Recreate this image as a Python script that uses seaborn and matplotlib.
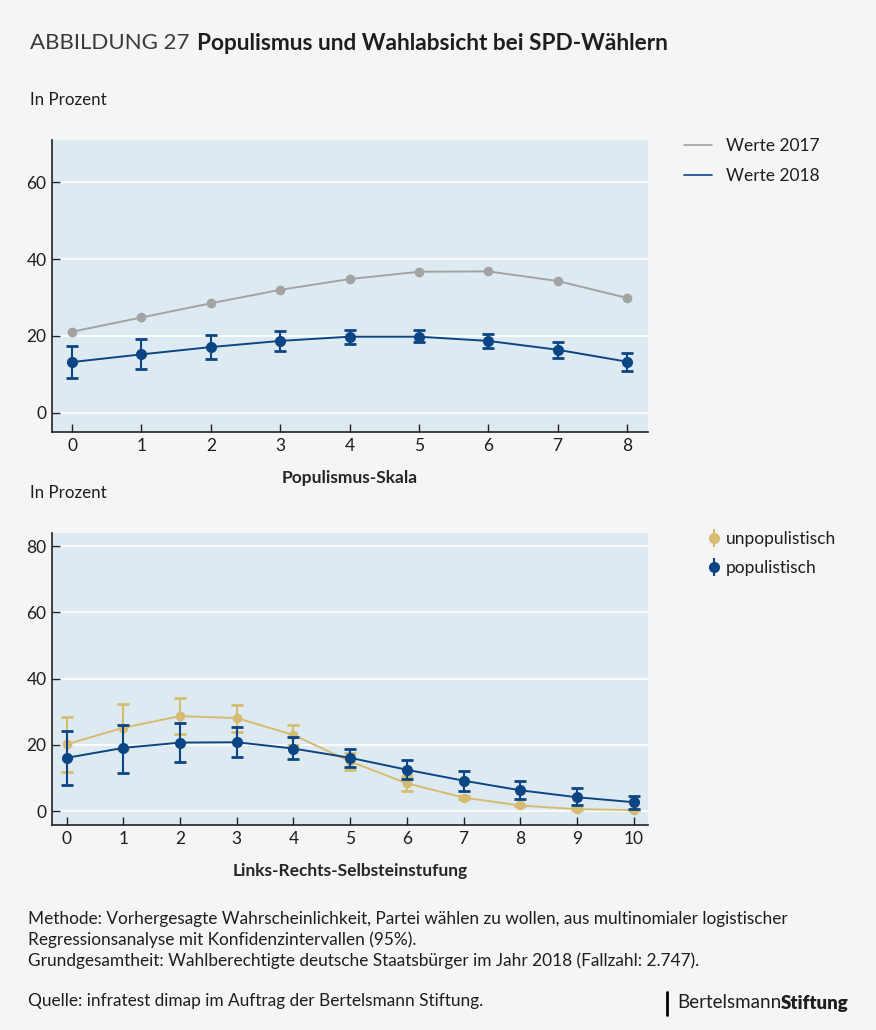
import numpy as np
import pandas as pd
import matplotlib.pyplot as plt
import seaborn as sns
from matplotlib.lines import Line2D

# --- data ---
pop_scale = [0, 1, 2, 3, 4, 5, 6, 7, 8]
werte_2017 = [21.1, 24.8, 28.5, 32.0, 34.8, 36.7, 36.8, 34.3, 29.9]
werte_2018 = [13.2, 15.2, 17.1, 18.7, 19.8, 19.8, 18.7, 16.4, 13.3]
werte_2018_lo = [9.0, 11.4, 14.0, 16.1, 17.9, 18.3, 16.8, 14.2, 10.9]
werte_2018_hi = [17.4, 19.1, 20.3, 21.2, 21.6, 21.6, 20.5, 18.4, 15.6]

lr_scale = [0, 1, 2, 3, 4, 5, 6, 7, 8, 9, 10]
unpop = [20.2, 25.2, 28.7, 28.1, 23.0, 15.0, 8.4, 4.1, 1.7, 0.6, 0.3]
unpop_lo = [11.8, 18.5, 23.3, 24.0, 20.0, 12.5, 6.0, 3.6, 1.4, 0.4, 0.2]
unpop_hi = [28.4, 32.4, 34.3, 32.1, 26.1, 17.7, 10.7, 4.6, 2.0, 0.8, 0.4]
popu = [16.1, 19.1, 20.7, 20.8, 18.9, 16.1, 12.5, 9.2, 6.3, 4.2, 2.7]
popu_lo = [7.9, 11.5, 14.8, 16.3, 15.7, 13.3, 9.7, 6.1, 3.7, 1.8, 0.7]
popu_hi = [24.3, 26.1, 26.7, 25.5, 22.5, 18.8, 15.5, 12.2, 9.2, 6.9, 4.6]

BG = '#f5f5f5'
PANEL = '#deeaf2'
BLUE = '#0b4584'
GREY = '#a3a3a3'
GOLD = '#d6bc72'
TXT = '#1e1e1e'

sns.set_theme(style='white')
plt.rcParams['font.family'] = ['Lato', 'DejaVu Sans']
plt.rcParams['text.color'] = TXT


def style_axes(ax, yticks):
    ax.set_facecolor(PANEL)
    sns.despine(ax=ax, top=True, right=True)
    for s in ['left', 'bottom']:
        ax.spines[s].set_color('#222222')
        ax.spines[s].set_linewidth(1.2)
    ax.set_yticks(yticks)
    ax.yaxis.grid(True, color='white', linewidth=1.2)
    ax.set_axisbelow(True)
    ax.tick_params(axis='both', which='both', direction='in', length=6,
                   width=1, color='#222222', labelsize=12.5, labelcolor=TXT,
                   bottom=True, left=True, pad=4)
    ax.set_ylabel('')


fig = plt.figure(figsize=(8.76, 10.3), dpi=100, facecolor=BG)

# --- top panel ---
ax1 = fig.add_axes([0.0594, 0.5806, 0.680, 0.2835])
df1 = pd.DataFrame({'x': pop_scale, 'y17': werte_2017, 'y18': werte_2018})
sns.lineplot(data=df1, x='x', y='y17', ax=ax1, color=GREY, marker='o',
             markersize=7, markeredgewidth=0, linewidth=1.4)
err18 = [np.subtract(werte_2018, werte_2018_lo), np.subtract(werte_2018_hi, werte_2018)]
ax1.errorbar(pop_scale, werte_2018, yerr=err18, fmt='none', ecolor=BLUE,
             elinewidth=1.5, capsize=4, capthick=2)
sns.lineplot(data=df1, x='x', y='y18', ax=ax1, color=BLUE, marker='o',
             markersize=8, markeredgewidth=0, linewidth=1.4)
ax1.set_xlim(-0.29, 8.3)
ax1.set_ylim(-5, 71)
ax1.set_xticks(pop_scale)
style_axes(ax1, [0, 20, 40, 60])
ax1.set_xlabel('Populismus-Skala', fontsize=12.5, fontweight='bold', labelpad=12)

leg1 = [Line2D([0], [0], color=GREY, lw=1.2), Line2D([0], [0], color=BLUE, lw=1.2)]
ax1.legend(leg1, ['Werte 2017', 'Werte 2018'], loc='upper left',
           bbox_to_anchor=(1.035, 1.06), frameon=False, fontsize=12.5,
           handlelength=1.6, handletextpad=0.8, labelspacing=0.8)

# --- bottom panel ---
ax2 = fig.add_axes([0.0594, 0.199, 0.680, 0.2835])
df2 = pd.DataFrame({'x': lr_scale, 'unpop': unpop, 'pop': popu})
ax2.errorbar(lr_scale, unpop,
             yerr=[np.subtract(unpop, unpop_lo), np.subtract(unpop_hi, unpop)],
             fmt='none', ecolor=GOLD, elinewidth=1.5, capsize=4, capthick=2)
sns.lineplot(data=df2, x='x', y='unpop', ax=ax2, color=GOLD, marker='o',
             markersize=7, markeredgewidth=0, linewidth=1.4)
ax2.errorbar(lr_scale, popu,
             yerr=[np.subtract(popu, popu_lo), np.subtract(popu_hi, popu)],
             fmt='none', ecolor=BLUE, elinewidth=1.5, capsize=4, capthick=2)
sns.lineplot(data=df2, x='x', y='pop', ax=ax2, color=BLUE, marker='o',
             markersize=8, markeredgewidth=0, linewidth=1.4)
ax2.set_xlim(-0.26, 10.25)
ax2.set_ylim(-4.2, 84)
ax2.set_xticks(lr_scale)
style_axes(ax2, [0, 20, 40, 60, 80])
ax2.set_xlabel('Links-Rechts-Selbsteinstufung', fontsize=12.5, fontweight='bold', labelpad=12)

h_un = ax2.errorbar([], [], yerr=[], color=GOLD, marker='o', markersize=7,
                    capsize=4, capthick=2, elinewidth=1.5, linestyle='none')
h_po = ax2.errorbar([], [], yerr=[], color=BLUE, marker='o', markersize=7,
                    capsize=4, capthick=2, elinewidth=1.5, linestyle='none')
ax2.legend([h_un, h_po], ['unpopulistisch', 'populistisch'], loc='upper left',
           bbox_to_anchor=(1.075, 1.06), frameon=False, fontsize=12.5,
           handlelength=0.7, handletextpad=0.35, labelspacing=0.75)

# --- texts ---
fig.text(30 / 876, 1 - 43 / 1030, 'ABBILDUNG 27', fontsize=16, fontweight='normal',
         va='center', ha='left', color='#3a3a3a')
fig.text(197 / 876, 1 - 43 / 1030, 'Populismus und Wahlabsicht bei SPD-Wählern',
         fontsize=16.3, fontweight='bold', va='center', ha='left')
fig.text(30 / 876, 1 - 100 / 1030, 'In Prozent', fontsize=12.2, va='center')
fig.text(30 / 876, 1 - 493 / 1030, 'In Prozent', fontsize=12.2, va='center')

foot = ('Methode: Vorhergesagte Wahrscheinlichkeit, Partei wählen zu wollen, aus multinomialer logistischer\n'
        'Regressionsanalyse mit Konfidenzintervallen (95%).\n'
        'Grundgesamtheit: Wahlberechtigte deutsche Staatsbürger im Jahr 2018 (Fallzahl: 2.747).')
fig.text(28 / 876, 1 - 911 / 1030, foot, fontsize=12.4, va='top', ha='left',
         linespacing=1.32)
fig.text(28 / 876, 1 - 1001 / 1030, 'Quelle: infratest dimap im Auftrag der Bertelsmann Stiftung.',
         fontsize=12.4, va='center', ha='left')

fig.add_artist(Line2D([667 / 876, 667 / 876], [1 - 1015 / 1030, 1 - 992 / 1030],
                      color='black', lw=2))
fig.text(677 / 876, 1 - 1003 / 1030, 'Bertelsmann', fontsize=13.5, va='center', ha='left')
fig.text(781 / 876, 1 - 1003 / 1030, 'Stiftung', fontsize=13.5, fontweight='heavy',
         va='center', ha='left')

fig.savefig('out.png', dpi=100, facecolor=BG)
